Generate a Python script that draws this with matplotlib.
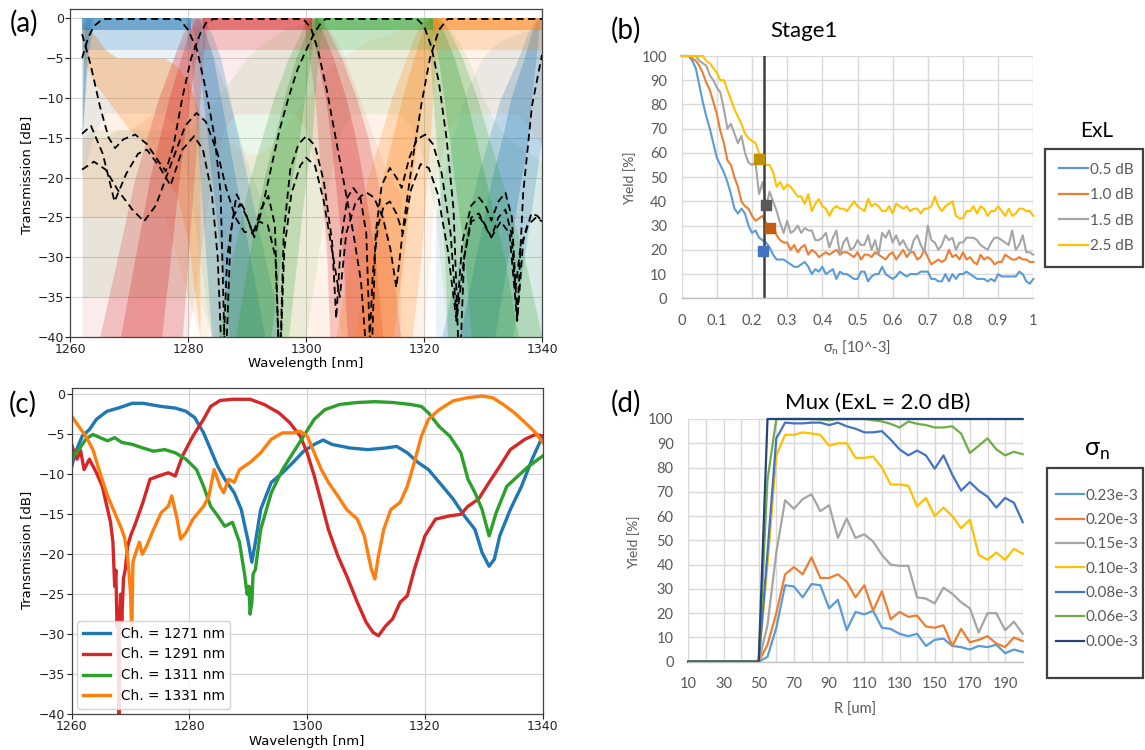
import numpy as np
import matplotlib
matplotlib.use('Agg')
import matplotlib.pyplot as plt
from matplotlib.patches import Rectangle
from matplotlib.lines import Line2D

nan = np.nan
plt.rcParams['font.family'] = ['Lato', 'DejaVu Sans']
plt.rcParams['axes.unicode_minus'] = True

# ---------------- Panel (a) : Monte-Carlo cloud (envelopes) ----------
XA = [1262, 1264, 1266, 1268, 1270, 1272, 1274, 1276, 1278, 1280, 1282, 1284, 1286, 1288,
      1290, 1292, 1294, 1296, 1298, 1300, 1302, 1304, 1306, 1308, 1310, 1312, 1314, 1316,
      1318, 1320, 1322, 1324, 1326, 1328, 1330, 1332, 1334, 1336, 1338, 1340]

# sparse envelope (upper / lower) of every channel's cloud
blue_up = [-0.5, -0.3, -0.2, -0.2, -0.2, -0.2, -0.2, -0.2, -0.3, -0.6, -1.5, -4, -8, -13, -18, -22, -26, -30,
           nan, nan, nan, nan, nan, nan, nan, nan, nan, nan, nan, nan,
           -25, -18, -12, -8, -5, -3.5, -2.5, -2, -1.5, -1]
blue_lo = [-20, -15, -12, -12, -12, -12, -12, -12, -14, -20, -30, -40, -40, -40, -40, -40, -40, -40,
           nan, nan, nan, nan, nan, nan, nan, nan, nan, nan, nan, nan,
           -40, -40, -40, -40, -40, -40, -40, -40, -40, -40]
red_up = [-15, -15, -15, -14, -14, -13, -12, -8, -4, -1.5, -0.5,
          -0.2, -0.2, -0.2, -0.2, -0.2, -0.2, -0.2, -0.2, -0.2,
          -0.5, -1.5, -4, -8, -12, -16, -20, -22,
          nan, nan, nan, nan, nan, nan, nan, nan, nan, nan, nan, nan]
red_lo = [-40, -40, -40, -40, -40, -40, -40, -40, -40, -40, -30, -20, -14,
          -12, -12, -12, -12, -12, -12, -14, -20, -30,
          -40, -40, -40, -40, -40, -40,
          nan, nan, nan, nan, nan, nan, nan, nan, nan, nan, nan, nan]
green_up = [-15, -14, -14, -14, -14, -14, -14, -14, -14, -14, -13, -11, -9, -7, -5, -3.5, -2.5, -1.5, -1, -0.5,
            -0.2, -0.2, -0.2, -0.2, -0.2, -0.2, -0.2, -0.2, -0.2, -0.2,
            -0.4, -1, -3, -6, -10, -13, -15, -16, -17, -18]
green_lo = [-35, -35, -35, -35, -35, -35, -35, -35, -35, -35, -35,
            -40, -40, -40, -40, -40, -40, -40, -40, -40,
            -30, -20, -14, -12, -12, -12, -12, -12, -14, -18, -25,
            -40, -40, -40, -40, -40, -40, -40, -40, -40]
orange_up = [-0.5, -2, -4, -5, -5, -5, -5, -5, -6, -8, -12, -15, -15, -16, -17, -17, -16, -14, -12, -10,
             -8, -6, -5, -4, -3, -2.5, -2, -1.5, -1, -0.5,
             -0.2, -0.2, -0.2, -0.2, -0.2, -0.2, -0.2, -0.2, -0.2, -0.3]
orange_lo = [-25, -25, -25, -25, -25, -25, -25, -25, -30, -35,
             -40, -40, -40, -40, -40, -40, -40, -40, -40, -40,
             -40, -40, -40, -40, -40, -40, -40, -40, -40, -40,
             -20, -14, -12, -12, -12, -12, -12, -12, -14, -16]

# dense orange cloud on the left side
orange_left_x = [1262, 1264, 1266, 1268, 1270, 1272, 1274, 1276, 1278, 1280, 1282]
orange_left_up = [-0.5, -2, -4, -5, -5, -5, -5, -5, -6, -8, -12]
orange_left_lo = [-5, -8, -10, -12, -14, -15, -17, -20, -22, -28, -40]

# saturated pass-band tops: start / end wavelength
top_blue = [1262, 1280.5]
top_red = [1282.5, 1301]
top_green = [1301.5, 1321.5]
top_orange = [1321.5, 1340]

# dense filter-edge bands: wavelength span (from, to) at each transmission level
EDGE_DB = [0, -2, -5, -10, -15, -20, -30, -40]
blueR_from = [1279.5, 1280, 1280.5, 1281, 1281.5, 1282, 1283, 1284]
blueR_to = [1282.5, 1284, 1285.5, 1287, 1288.5, 1290, 1293, 1296]
blueN_from = [1339, 1337.5, 1336, 1333, 1331, 1329, 1326, 1323]
blueN_to = [1340, 1340, 1340, 1340, 1340, 1339, 1337, 1335]
redL_from = [1280.5, 1279, 1277.5, 1275, 1273, 1271, 1268, 1265]
redL_to = [1283.5, 1283, 1282.5, 1282, 1281.5, 1281, 1280, 1279]
redR_from = [1299.5, 1300, 1300.5, 1301.5, 1302, 1302.5, 1303.5, 1304]
redR_to = [1302.5, 1304, 1306, 1308.5, 1310.5, 1312, 1314.5, 1316]
greenL_from = [1300, 1299, 1297, 1294.5, 1292.5, 1290.5, 1287.5, 1285]
greenL_to = [1303, 1302.5, 1302, 1301.5, 1301, 1300, 1298.5, 1297]
greenR_from = [1320, 1320.5, 1321, 1321.5, 1322, 1322.5, 1323.5, 1324]
greenR_to = [1323, 1324.5, 1326.5, 1329, 1331, 1333, 1337, 1340]
orangeL_from = [1320, 1318.5, 1317, 1314.5, 1312.5, 1310.5, 1307.5, 1305]
orangeL_to = [1323, 1322.5, 1322, 1321.5, 1321, 1320.5, 1319.5, 1318]
blueL_db = [0, -5, -10, -15]
blueL_from = [1262, 1262, 1262, 1262]
blueL_to = [1264, 1263, 1262.5, 1262]

# nominal (black dashed) responses
nomB_wl = [1262, 1263, 1264, 1265.5, 1278.5, 1280, 1281.5, 1283, 1284.5, 1285.5, 1286.3, 1287.2, 1288.2,
           1289.5, 1291, 1292.3, 1293.6, 1294.7, 1295.5, 1296.2, 1297.3, 1298.7, 1300, 1301.5, 1303,
           1304.4, 1305.1, 1305.9, 1307, 1308, 1309.2, 1310.2, 1311, 1311.8, 1312.8, 1314.2, 1315.3,
           1316.2, 1317.5, 1318.8, 1320.2, 1321.5, 1323, 1324.5, 1325.5, 1326.5, 1328, 1329.3, 1330.4,
           1331.4, 1332.6, 1333.8, 1334.9, 1335.8, 1336.8, 1338.3, 1340]
nomB_db = [-5, -2.5, -1, -0.1, -0.1, -1.5, -4, -9, -15, -22, -45, -27, -22.1, -24, -27.1, -24, -22.3,
           -26, -45, -27, -19, -15.8, -14.8, -16, -20.5, -28, -37.7, -28, -22.5, -21.3, -22.5, -27,
           -45, -27, -21, -18.8, -20, -21.3, -17.5, -15.2, -14.6, -15.8, -19.5, -27, -37.5, -28,
           -23.5, -22.5, -23.5, -25.4, -23, -21.9, -25, -37.7, -22, -11, -4.6]
nomR_wl = [1262, 1263.5, 1265, 1266.5, 1267.6, 1269, 1271, 1273, 1275, 1276.2, 1277.5, 1279, 1280.5,
           1282, 1283, 1284.2, 1299.5, 1300.8, 1302, 1303.5, 1305, 1306.5, 1308, 1309.3, 1310.5,
           1311.3, 1312.2, 1313.2, 1314.2, 1315.3, 1316.4, 1317.8, 1319.4, 1320.8, 1322.3, 1324,
           1325.5, 1326.8, 1328, 1329.3, 1330.4, 1331.4, 1332.6, 1333.8, 1334.8, 1335.5, 1336.3,
           1337.5, 1339, 1340]
nomR_db = [-2, -6, -11, -15, -16.3, -15.2, -14.6, -15.8, -18, -19.2, -16, -10, -5, -2, -0.6, -0.1,
           -0.1, -1.2, -4, -9, -15, -21, -27, -33, -45, -32, -26, -23.5, -23, -24.5, -27, -21.5,
           -18.3, -18.8, -22, -29, -38, -30, -25, -24.5, -26, -27.5, -25, -24, -27, -34, -29, -26,
           -25, -25.5]
nomG_wl = [1262, 1263.5, 1265.5, 1267.5, 1269.5, 1271.5, 1273, 1275, 1277, 1279, 1281, 1282.5, 1284,
           1285, 1285.8, 1286.6, 1287.6, 1288.8, 1290, 1291.2, 1292.5, 1294, 1295.5, 1297, 1298.5,
           1300, 1301.3, 1302.5, 1303.3, 1318.8, 1320, 1321.2, 1322.5, 1323.8, 1325, 1326, 1326.8,
           1328, 1329.5, 1331.4, 1333, 1334.5, 1335.8, 1336.8, 1338.2, 1339.2, 1340]
nomG_db = [-14.5, -13.5, -17, -23, -19.5, -17, -16.5, -18.5, -21, -16.5, -14.8, -16.5, -22, -30, -45,
           -30, -25, -23.3, -25, -27.5, -24, -19, -14, -10, -6.5, -4, -2, -0.6, -0.1, -0.1, -1,
           -3.5, -8, -15, -24, -45, -30, -25.5, -25, -27.5, -25.5, -27, -38, -28, -24.5, -24.8, -25.5]
nomO_wl = [1262, 1264, 1266, 1268, 1270.5, 1272.5, 1274.5, 1277, 1279.5, 1281.4, 1283, 1285, 1286.5,
           1288, 1289.5, 1290.8, 1292, 1293.5, 1294.8, 1295.5, 1296.3, 1297.5, 1299, 1300, 1301.5,
           1303, 1304.6, 1305.7, 1306.8, 1308.3, 1309.3, 1310.3, 1311.5, 1313, 1314.3, 1315.3,
           1316.5, 1318, 1319.5, 1321, 1322.5, 1324, 1340]
nomO_db = [-19, -18, -19, -21.5, -24, -25.5, -23.5, -18.5, -13.5, -11.9, -13, -17, -21.5, -25, -26.8,
           -27, -25.5, -26, -30, -45, -29, -22, -18.5, -17.5, -18.5, -23, -30, -35, -27, -23.3,
           -22.3, -21.9, -22.5, -25, -29, -33.8, -26, -18, -11, -5, -1.5, -0.1, -0.1]

# ---------------- Panel (c) : measured spectra --------------
c_blue_wl = [1260, 1260.6, 1261.8, 1263, 1264.2, 1266, 1267.9, 1270.3, 1272.1, 1275.2, 1277.6, 1279.4,
             1280.9, 1282.4, 1283.6, 1284.8, 1286, 1287.6, 1288.8, 1290, 1290.6, 1291.2, 1292.1,
             1293.9, 1295.8, 1297.6, 1299.4, 1301.2, 1302.7, 1304.2, 1307.3, 1310.3, 1313.3, 1315.2,
             1317, 1318.8, 1320.6, 1323, 1324.8, 1326.7, 1328.5, 1329.7, 1330.9, 1331.8, 1332.7,
             1334.5, 1336.4, 1338.2, 1340]
c_blue_db = [-9, -7.3, -5.2, -4.4, -3.1, -2.1, -1.7, -1.1, -1.1, -1.5, -1.7, -2.1, -2.9, -4.8, -6.9, -9,
             -10.6, -12.3, -14.4, -18.5, -21, -18.5, -14.4, -11, -9.8, -8.5, -7.1, -6.25, -5.7, -6.25,
             -6.7, -6.9, -6.7, -6.5, -7.3, -8.5, -9.4, -11.5, -13.1, -15.2, -16.9, -19.8, -21.5,
             -20.6, -17.7, -14.4, -11.5, -8.1, -5.2]
c_red_wl = [1260, 1260.5, 1260.9, 1261.5, 1262.1, 1263, 1264.2, 1265.2, 1266.1, 1266.6, 1267, 1267.3,
            1267.5, 1267.7, 1267.9, 1268.0, 1268.1, 1268.3, 1268.5, 1268.8, 1269.1, 1269.5, 1270,
            1270.9, 1272.1, 1273.3, 1274.8, 1276.4, 1277.6, 1278.8, 1280.6, 1282.4, 1283.6, 1285.2,
            1287.3, 1290.3, 1292.7, 1295.2, 1297, 1298.8, 1300, 1301.2, 1302.4, 1303.6, 1305.2,
            1306.7, 1308.5, 1310, 1311.2, 1312.1, 1313.3, 1314.5, 1315.8, 1317, 1318.2, 1320,
            1321.8, 1324.2, 1326.1, 1327.3, 1329.1, 1330.9, 1332.7, 1334.5, 1337, 1338.8, 1340]
c_red_db = [-6.25, -7.5, -8.1, -7, -9.4, -8.1, -9.8, -11.5, -14.4, -16, -18.5, -24, -22, -29, -27, -42,
            -29, -25, -28.5, -23, -21.9, -19, -17.7, -16, -13.5, -10.6, -10.2, -9.8, -10.2, -7.7,
            -5.2, -3.1, -1.5, -0.75, -0.6, -0.6, -1.25, -2.3, -3.5, -5.2, -7.3, -10.2, -13.5, -16.9,
            -20.2, -22.7, -26, -28.5, -29.8, -30.2, -29, -28.1, -26, -25.2, -21.9, -17.7, -15.6,
            -15.2, -15, -14, -13.1, -11, -9, -6.9, -5.6, -5, -5.2]
c_green_wl = [1260, 1260.5, 1261.2, 1262.4, 1263.6, 1264.8, 1266.1, 1267.3, 1268.5, 1270.3, 1272.1,
              1273.9, 1275.8, 1277.6, 1279.4, 1281.2, 1282.4, 1283.6, 1284.8, 1286, 1287.3, 1288.5,
              1289.4, 1289.8, 1290.1, 1290.3, 1290.6, 1290.8, 1291.2, 1292.1, 1293.9, 1295.8,
              1297.6, 1299.4, 1301.2, 1303, 1305.5, 1308.5, 1311.5, 1314.5, 1317.6, 1319.4, 1320.6,
              1322.4, 1324.2, 1326.1, 1327.3, 1328.5, 1329.7, 1330.9, 1332.1, 1333.9, 1335.8,
              1337.6, 1340]
c_green_db = [-8.1, -7.5, -6.9, -5.6, -5, -5.4, -5.8, -5.4, -6, -6.25, -6.7, -7.1, -6.9, -7.3, -8.1,
              -9.4, -11.5, -14, -15.2, -16.5, -16, -18.5, -22.7, -25, -24, -27.5, -26, -22.5, -21.9,
              -16.9, -12.3, -9.4, -7.3, -5.2, -3.1, -1.9, -1.25, -1, -0.9, -1, -1.25, -1.5, -2.3,
              -4, -5.2, -7.3, -10.6, -12.3, -14.4, -17.7, -14.8, -11.5, -10.2, -9, -7.7]
c_orange_wl = [1260, 1261.2, 1262.4, 1263.6, 1264.8, 1266.1, 1267.3, 1268.5, 1269, 1269.4, 1269.7,
               1270, 1270.2, 1270.4, 1270.8, 1271.5, 1272, 1272.7, 1273.9, 1275.2, 1276.4, 1277,
               1277.9, 1278.5, 1279.4, 1280.6, 1282.4, 1283.3, 1284.2, 1285.2, 1285.8, 1286.7,
               1287.6, 1288.5, 1290.3, 1292.1, 1293.9, 1295.8, 1297.6, 1298.8, 1300, 1301.2,
               1302.4, 1303.6, 1305.2, 1306.7, 1308.5, 1309.7, 1310.9, 1311.5, 1312.1, 1313,
               1314.2, 1315.8, 1317, 1318.2, 1319.4, 1320.6, 1322.4, 1324.8, 1327.3, 1329.7,
               1331.5, 1333.3, 1335.2, 1337, 1338.8, 1340]
c_orange_db = [-2.7, -4, -5.2, -6.9, -9.8, -12.7, -14.8, -16.9, -18, -19.8, -22, -25, -30, -21, -20,
               -18.5, -20, -19, -16.9, -14.8, -14, -12.7, -15.6, -18.1, -17.3, -15.6, -14, -12.7,
               -9.4, -11.5, -12.3, -10.6, -11, -9.4, -8.5, -7.3, -5.6, -4.8, -4.8, -4.6, -5.2, -7.3,
               -9.4, -11, -12.7, -14.4, -15.6, -17.7, -21.9, -23.1, -20.2, -16.9, -14.4, -13.5,
               -11.5, -8.5, -5.2, -3.1, -1.9, -0.8, -0.4, -0.2, -0.4, -1.25, -2.3, -3.5, -4.8, -6]
c_labels = ['Ch. = 1271 nm', 'Ch. = 1291 nm', 'Ch. = 1311 nm', 'Ch. = 1331 nm']

# ---------------- Panel (b) : Stage1 yield --------------
sigma_n = [round(0.01 * i, 2) for i in range(101)]
y_05 = [100, 100, 100, 98, 95, 88, 81, 75, 70, 64, 58, 55, 52, 48, 43, 37, 35, 37, 35, 30,
        27, 28, 25, 24, 23, 21, 18, 16, 16, 16, 15, 14, 13, 13, 14, 15, 13, 10, 12, 11,
        13, 10, 11, 12, 8, 11, 10, 10, 9, 8, 8, 11, 11, 7, 9, 10, 10, 13, 10, 9,
        8, 9, 11, 10, 9, 10, 10, 10, 11, 11, 11, 8, 8, 7, 7, 10, 7, 10, 8, 10,
        10, 11, 10, 9, 8, 8, 8, 7, 8, 7, 10, 9, 9, 9, 9, 9, 11, 10, 7, 6, 8]
y_10 = [100, 100, 100, 99, 98, 96, 93, 89, 86, 81, 76, 69, 64, 57, 55, 50, 46, 40, 38, 37,
        34, 32, 33, 34, 31, 29, 30, 26, 24, 23, 23, 20, 22, 19, 21, 22, 18, 20, 19, 17,
        18, 19, 18, 19, 20, 18, 19, 19, 18, 17, 19, 16, 18, 18, 17, 19, 18, 17, 16, 18,
        19, 16, 18, 20, 17, 19, 19, 16, 17, 20, 17, 14, 15, 16, 15, 16, 20, 17, 18, 16,
        19, 16, 17, 15, 14, 18, 16, 17, 16, 14, 15, 15, 18, 17, 16, 16, 17, 16, 16, 15, 15]
y_15 = [100, 100, 100, 100, 100, 98, 97, 96, 92, 90, 87, 85, 78, 70, 72, 68, 64, 67, 60, 56,
        55, 56, 43, 48, 38, 44, 40, 36, 31, 27, 32, 27, 28, 30, 27, 29, 28, 28, 24, 24,
        25, 27, 21, 25, 28, 18, 23, 25, 20, 21, 24, 22, 22, 26, 20, 24, 18, 27, 25, 28,
        23, 26, 22, 24, 21, 19, 24, 26, 22, 19, 30, 24, 23, 20, 22, 26, 24, 25, 20, 23,
        23, 25, 25, 25, 24, 22, 21, 20, 23, 25, 25, 24, 23, 22, 28, 20, 22, 26, 19, 19, 18]
y_25 = [100, 100, 100, 100, 100, 100, 100, 98, 97, 95, 93, 90, 90, 86, 82, 78, 75, 72, 68, 66,
        65, 64, 60, 57, 55, 55, 52, 46, 48, 45, 47, 46, 44, 42, 42, 39, 43, 36, 39, 41,
        38, 37, 34, 37, 38, 37, 37, 36, 38, 40, 38, 37, 36, 41, 38, 39, 38, 36, 36, 38,
        35, 39, 38, 37, 38, 36, 37, 37, 35, 37, 37, 38, 42, 38, 36, 38, 39, 40, 34, 33,
        33, 36, 36, 38, 35, 38, 37, 34, 36, 36, 38, 36, 34, 37, 34, 35, 37, 37, 36, 36, 34]
b_labels = ['0.5 dB', '1.0 dB', '1.5 dB', '2.5 dB']
b_marker_x = [0.22, 0.24, 0.25, 0.23]
b_marker_y = [57.5, 38.5, 29, 19.5]
b_vline = 0.235

# ---------------- Panel (d) : Mux yield --------------
R_um = [10, 15, 20, 25, 30, 35, 40, 45, 50, 55, 60, 65, 70, 75, 80, 85, 90, 95, 100, 105, 110,
        115, 120, 125, 130, 135, 140, 145, 150, 155, 160, 165, 170, 175, 180, 185, 190, 195, 200]
zeros9 = [0, 0, 0, 0, 0, 0, 0, 0, 0]
d_023 = zeros9 + [2, 14, 31.5, 31, 26.5, 32, 31.5, 22, 25.5, 13, 20.5, 19.5, 21, 14, 13.5, 11.5,
                  10.5, 11.5, 6.5, 9, 9.5, 6.5, 6, 5, 6.5, 6, 7, 3.5, 5, 4]
d_020 = zeros9 + [7, 20, 36, 39, 36, 43, 34.5, 34.5, 36, 33, 26.5, 31.5, 21, 29, 17.5, 20.5, 18.5,
                  19, 14.5, 14, 15, 6.5, 13.5, 8, 9, 10.5, 7.5, 6, 10, 8.5]
d_015 = zeros9 + [15, 45, 66.5, 63, 67, 69, 62, 64.5, 51, 59, 51, 52.5, 49.5, 44, 40, 39.5, 39.5,
                  26.5, 26, 24, 30.5, 28, 24.5, 22, 12, 20, 20, 13, 16.5, 11.5]
d_010 = zeros9 + [40, 85, 93.5, 93.5, 94.5, 94, 93.5, 89, 90, 90, 84, 84, 84.5, 80, 73, 73, 72.5,
                  64, 67.5, 60, 63.5, 60, 55, 58.5, 44, 42, 45, 42, 46.5, 44.5]
d_008 = zeros9 + [45, 92, 98.5, 98.2, 98.2, 98.5, 98.5, 97.5, 98.5, 97, 96, 94.5, 94.5, 95, 91.5,
                  87.5, 85, 87, 85, 79.5, 85, 77, 70.5, 74, 70.5, 68, 63.5, 67.5, 65.5, 57.5]
d_006 = zeros9 + [75, 100, 100, 100, 100, 100, 99.8, 99.5, 100, 100, 100, 100, 99.5, 99, 98, 96.5,
                  99, 98, 97.5, 96.5, 96.5, 97, 94, 86, 89, 92, 87.5, 85, 86.5, 85.5]
d_000 = zeros9 + [100] * 30
d_labels = ['0.23e-3', '0.20e-3', '0.15e-3', '0.10e-3', '0.08e-3', '0.06e-3', '0.00e-3']

# ======================================================================================
W, H = 1145, 750
fig = plt.figure(figsize=(W / 100, H / 100), dpi=100)


def fax(l, t, r, b):
    return fig.add_axes([l / W, 1 - b / H, (r - l) / W, (b - t) / H])


def fx(x):
    return x / W


def fy(y):
    return 1 - y / H


TAB = {'blue': '#1f77b4', 'red': '#d62728', 'green': '#2ca02c', 'orange': '#ff7f0e'}


def style_mpl(ax, top):
    ax.set_xlim(1260, 1340)
    ax.set_ylim(-40, top)
    ax.set_xticks([1260, 1280, 1300, 1320, 1340])
    ax.set_yticks([0, -5, -10, -15, -20, -25, -30, -35, -40])
    ax.grid(True, color='#d4d4d4', lw=0.8)
    ax.set_axisbelow(True)
    ax.tick_params(labelsize=9, length=3.5, pad=1.0, width=0.8, colors='#222222')
    for s in ax.spines.values():
        s.set_color('#444444')
        s.set_linewidth(0.9)
    for lab in ax.get_xticklabels() + ax.get_yticklabels():
        lab.set_family(['DejaVu Sans'])


# ---- (a)
axA = fax(70.3, 9, 542, 337)
style_mpl(axA, 1.15)
sparse = [(TAB['blue'], blue_up, blue_lo), (TAB['red'], red_up, red_lo),
          (TAB['green'], green_up, green_lo), (TAB['orange'], orange_up, orange_lo)]
for col, up, lo in sparse:
    axA.fill_between(XA, lo, up, color=col, alpha=0.09, lw=0)
axA.fill_between(orange_left_x, orange_left_lo, orange_left_up, color=TAB['orange'], alpha=0.25, lw=0)
edges = [(TAB['blue'], EDGE_DB, blueR_from, blueR_to), (TAB['blue'], EDGE_DB, blueN_from, blueN_to),
         (TAB['blue'], blueL_db, blueL_from, blueL_to),
         (TAB['red'], EDGE_DB, redL_from, redL_to), (TAB['red'], EDGE_DB, redR_from, redR_to),
         (TAB['green'], EDGE_DB, greenL_from, greenL_to), (TAB['green'], EDGE_DB, greenR_from, greenR_to),
         (TAB['orange'], EDGE_DB, orangeL_from, orangeL_to)]
for col, lv, xa, xb in edges:
    xa = np.array(xa, float)
    xb = np.array(xb, float)
    mid = (xa + xb) / 2
    half = (xb - xa) / 4
    axA.fill_betweenx(lv, xa, xb, color=col, alpha=0.22, lw=0)
    axA.fill_betweenx(lv, mid - half, mid + half, color=col, alpha=0.28, lw=0)
for col, span in [(TAB['blue'], top_blue), (TAB['red'], top_red),
                  (TAB['green'], top_green), (TAB['orange'], top_orange)]:
    axA.fill_between(span, [-4, -4], [0, 0], color=col, alpha=0.2, lw=0)
    axA.fill_between(span, [-1.5, -1.5], [0, 0], color=col, alpha=0.5, lw=0)
for wl, db in [(nomB_wl, nomB_db), (nomR_wl, nomR_db), (nomG_wl, nomG_db), (nomO_wl, nomO_db)]:
    axA.plot(wl, db, color='black', ls=(0, (4, 2.5)), lw=1.3)
fig.text(fx(306), fy(363), 'Wavelength [nm]', ha='center', va='center', fontsize=9.5,
         family=['DejaVu Sans'])
fig.text(fx(27), fy(175), 'Transmission [dB]', ha='center', va='center', rotation=90,
         fontsize=9.5, family=['DejaVu Sans'])

# ---- (c)
axC = fax(71.7, 387.7, 542.7, 714)
style_mpl(axC, 0.85)
for wl, db, col, lab in [(c_blue_wl, c_blue_db, TAB['blue'], c_labels[0]),
                         (c_red_wl, c_red_db, TAB['red'], c_labels[1]),
                         (c_green_wl, c_green_db, TAB['green'], c_labels[2]),
                         (c_orange_wl, c_orange_db, TAB['orange'], c_labels[3])]:
    axC.plot(wl, db, color=col, lw=2.4, label=lab)
legC = axC.legend(loc='lower left', borderaxespad=0.4, framealpha=0.85,
                  prop={'family': ['DejaVu Sans'], 'size': 9.8})
fig.text(fx(307), fy(741), 'Wavelength [nm]', ha='center', va='center', fontsize=9.5,
         family=['DejaVu Sans'])
fig.text(fx(27), fy(550), 'Transmission [dB]', ha='center', va='center', rotation=90,
         fontsize=9.5, family=['DejaVu Sans'])

# ---- Excel-like helpers
GRID = '#d9d9d9'
TXT = '#595959'


def style_xl(ax):
    for k in ['top', 'right', 'left']:
        ax.spines[k].set_visible(False)
    ax.spines['bottom'].set_color('#bfbfbf')
    ax.spines['bottom'].set_linewidth(1.0)
    ax.set_ylim(0, 100)
    ax.set_yticks(range(0, 101, 10))
    ax.grid(True, which='both', color=GRID, lw=1.0)
    ax.set_axisbelow(True)
    ax.tick_params(which='both', length=0, labelsize=10.5, colors=TXT)
    ax.tick_params(axis='y', pad=10.5)
    ax.tick_params(axis='x', pad=11)


# ---- (b)
axB = fax(681.7, 56, 1033.3, 298.3)
style_xl(axB)
axB.set_xlim(0, 1)
axB.set_xticks([0, 0.1, 0.2, 0.3, 0.4, 0.5, 0.6, 0.7, 0.8, 0.9, 1.0])
axB.set_xticklabels(['0', '0.1', '0.2', '0.3', '0.4', '0.5', '0.6', '0.7', '0.8', '0.9', '1'])
b_cols = ['#5B9BD5', '#ED7D31', '#A5A5A5', '#FFC000']
b_series = [y_05, y_10, y_15, y_25]
for ys, col in zip(b_series, b_cols):
    axB.plot(sigma_n, ys, color=col, lw=1.5, clip_on=False)
axB.plot([b_vline, b_vline], [0, 100], color='#404040', lw=1.8)
mk_cols = ['#BF9000', '#595959', '#C55A11', '#4472C4']
for mx, my, mc in zip(b_marker_x, b_marker_y, mk_cols):
    axB.plot([mx], [my], marker='s', ms=6.5, color=mc, ls='none', zorder=5)
fig.text(fx(804), fy(31), 'Stage1', ha='center', va='center', fontsize=16)
fig.text(fx(857), fy(348), r'σ$_\mathregular{n}$ [10^-3]', ha='center', va='center',
         fontsize=10.5, color=TXT)
fig.text(fx(630), fy(178), 'Yield [%]', ha='center', va='center', rotation=90,
         fontsize=10, color=TXT)
fig.patches.append(Rectangle((fx(1045), fy(267)), (1143 - 1045) / W, (267 - 149) / H,
                             transform=fig.transFigure, fill=False, ec='#404040', lw=1.6))
hb = [Line2D([], [], color=c, lw=1.6) for c in b_cols]
legB = axB.legend(hb, b_labels, loc='center left', bbox_to_anchor=(fx(1059), fy(208)),
                  bbox_transform=fig.transFigure, frameon=False, borderpad=0, borderaxespad=0,
                  handlelength=1.9, handletextpad=0.1, labelspacing=0.75, fontsize=11)
for t in legB.get_texts():
    t.set_color(TXT)
fig.text(fx(1097), fy(131), 'ExL', ha='center', va='center', fontsize=15)

# ---- (d)
axD = fax(688.3, 419, 1022.7, 661.7)
style_xl(axD)
axD.set_xlim(10, 200)
axD.set_xticks([10, 30, 50, 70, 90, 110, 130, 150, 170, 190])
axD.set_xticks([20, 40, 60, 80, 100, 120, 140, 160, 180, 200], minor=True)
d_cols = ['#5B9BD5', '#ED7D31', '#A5A5A5', '#FFC000', '#4472C4', '#70AD47', '#264478']
d_series = [d_023, d_020, d_015, d_010, d_008, d_006, d_000]
for ys, col in zip(d_series, d_cols):
    axD.plot(R_um, ys, color=col, lw=1.6, clip_on=False)
fig.text(fx(878), fy(403), 'Mux (ExL = 2.0 dB)', ha='center', va='center', fontsize=16)
fig.text(fx(855), fy(710), 'R [um]', ha='center', va='center', fontsize=10.5, color=TXT)
fig.text(fx(634), fy(542), 'Yield [%]', ha='center', va='center', rotation=90,
         fontsize=10, color=TXT)
fig.patches.append(Rectangle((fx(1047), fy(678)), (1143 - 1047) / W, (678 - 468) / H,
                             transform=fig.transFigure, fill=False, ec='#404040', lw=1.6))
hd = [Line2D([], [], color=c, lw=1.6) for c in d_cols]
legD = axD.legend(hd, d_labels, loc='center left', bbox_to_anchor=(fx(1056), fy(568.7)),
                  bbox_transform=fig.transFigure, frameon=False, borderpad=0, borderaxespad=0,
                  handlelength=1.8, handletextpad=0.1, labelspacing=0.68, fontsize=11)
for t in legD.get_texts():
    t.set_color(TXT)
fig.text(fx(1097), fy(450), r'σ$_\mathregular{n}$', ha='center', va='center', fontsize=18)

# ---- panel letters
for lab, x, y in [('(a)', 24, 23), ('(b)', 626, 30), ('(c)', 23, 404), ('(d)', 626, 403)]:
    fig.text(fx(x), fy(y), lab, ha='center', va='center', fontsize=20)

fig.savefig('out.png', dpi=100)
